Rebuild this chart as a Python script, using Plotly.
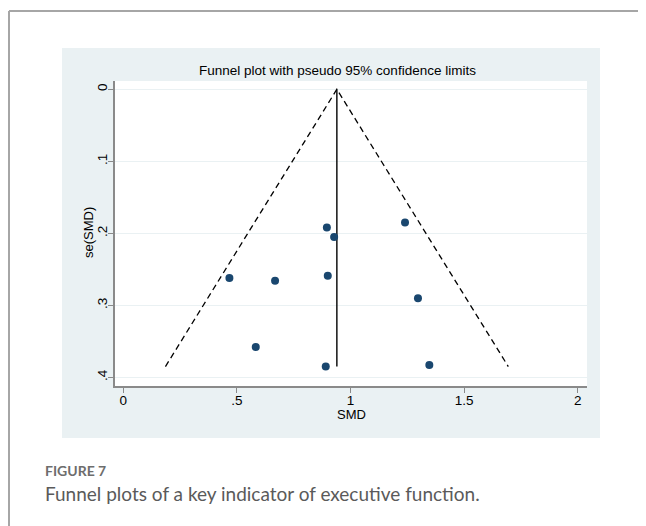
import plotly.graph_objects as go

# ---- data ----
smd = [0.896, 0.928, 1.240, 0.467, 0.668, 0.900, 1.297, 0.583, 0.891, 1.347]
se_smd = [0.192, 0.205, 0.185, 0.262, 0.266, 0.259, 0.290, 0.358, 0.385, 0.383]
pooled_smd = 0.94
z95 = 1.96
x_tick_vals = [0, 0.5, 1, 1.5, 2]
x_tick_text = ["0", ".5", "1", "1.5", "2"]
y_tick_vals = [0, 0.1, 0.2, 0.3, 0.4]
y_tick_text = ["0", ".1", ".2", ".3", ".4"]

title_text = "Funnel plot with pseudo 95% confidence limits"
x_title = "SMD"
y_title = "se(SMD)"
caption_label = "FIGURE 7"
caption_text = "Funnel plots of a key indicator of executive function."

# ---- layout geometry (page pixels; the page body adds an 8px offset) ----
OFF = 8
W, H = 646 - OFF, 526 - OFF
L, R, T, B = 115 - OFF, 587 - OFF, 81 - OFF, 386 - OFF


def px2x(px):
    return (px - OFF - L) / (R - L)


def py2y(py):
    return (B - (py - OFF)) / (B - T)


se_max = max(se_smd)
lo_lim = pooled_smd - z95 * se_max
hi_lim = pooled_smd + z95 * se_max

navy = "#1a476f"
panel = "#eaf1f3"
axis_col = "#8a8a8a"
stata_font = "Liberation Sans, Arial, sans-serif"
cap_font = "Lato, Open Sans, sans-serif"

fig = go.Figure()

# pseudo 95% confidence limits (dashed funnel)
fig.add_trace(go.Scatter(
    x=[lo_lim, pooled_smd, hi_lim],
    y=[se_max, 0, se_max],
    mode="lines",
    line=dict(color="black", width=1.3, dash="6px,4px"),
    hoverinfo="skip",
    showlegend=False,
))
# pooled estimate line
fig.add_trace(go.Scatter(
    x=[pooled_smd, pooled_smd],
    y=[0, se_max],
    mode="lines",
    line=dict(color="black", width=1.4),
    hoverinfo="skip",
    showlegend=False,
))
# studies
fig.add_trace(go.Scatter(
    x=smd,
    y=se_smd,
    mode="markers",
    marker=dict(color=navy, size=8, line=dict(width=0)),
    showlegend=False,
))

shapes = [
    # grey graph region
    dict(type="rect", xref="paper", yref="paper",
         x0=px2x(62), x1=px2x(600), y0=py2y(438), y1=py2y(48),
         fillcolor=panel, line=dict(width=0), layer="below"),
    # white plot region
    dict(type="rect", xref="paper", yref="paper",
         x0=0, x1=1, y0=0, y1=1,
         fillcolor="white", line=dict(width=0), layer="below"),
    # page frame lines
    dict(type="line", xref="paper", yref="paper",
         x0=px2x(9), x1=px2x(646), y0=py2y(11), y1=py2y(11),
         line=dict(color="#a6a6a6", width=2)),
    dict(type="line", xref="paper", yref="paper",
         x0=px2x(9), x1=px2x(9), y0=py2y(11), y1=py2y(526),
         line=dict(color="#a6a6a6", width=2)),
]

annotations = [
    dict(text=title_text, xref="paper", yref="paper",
         x=px2x(337), y=py2y(70), xanchor="center", yanchor="middle",
         showarrow=False, font=dict(family=stata_font, size=13.5, color="black")),
    dict(text=x_title, xref="paper", yref="paper",
         x=px2x(351), y=py2y(414), xanchor="center", yanchor="middle",
         showarrow=False, font=dict(family=stata_font, size=13, color="black")),
    dict(text=y_title, xref="paper", yref="paper",
         x=px2x(88), y=py2y(233), xanchor="center", yanchor="middle",
         textangle=-90,
         showarrow=False, font=dict(family=stata_font, size=13, color="black")),
    dict(text="<b>" + caption_label + "</b>", xref="paper", yref="paper",
         x=px2x(43), y=py2y(470), xanchor="left", yanchor="middle",
         showarrow=False, font=dict(family=cap_font, size=14, color="#6d6d6d")),
    dict(text=caption_text, xref="paper", yref="paper",
         x=px2x(43), y=py2y(493), xanchor="left", yanchor="middle",
         showarrow=False, font=dict(family=cap_font, size=19, color="#5a5a5a")),
]

fig.update_layout(
    width=W, height=H, autosize=False,
    margin=dict(l=L, r=W - R, t=T, b=H - B, pad=0),
    paper_bgcolor="white",
    plot_bgcolor="white",
    shapes=shapes,
    annotations=annotations,
    showlegend=False,
    font=dict(family=stata_font, size=14, color="black"),
)

fig.update_xaxes(
    range=[-0.0366, 2.041],
    tickmode="array", tickvals=x_tick_vals, ticktext=x_tick_text,
    showgrid=False, zeroline=False,
    showline=True, linecolor=axis_col, linewidth=1.6,
    ticks="outside", ticklen=5, tickwidth=1.2, tickcolor=axis_col,
    ticklabelstandoff=-4,
    tickfont=dict(family=stata_font, size=13.5, color="black"),
)
fig.update_yaxes(
    range=[0.412, -0.0115],
    tickmode="array", tickvals=y_tick_vals, ticktext=y_tick_text,
    tickangle=-90,
    showgrid=True, gridcolor=panel, gridwidth=1.2,
    zeroline=False,
    showline=True, linecolor=axis_col, linewidth=1.6,
    ticks="outside", ticklen=5, tickwidth=1.2, tickcolor=axis_col,
    ticklabelstandoff=-4,
    tickfont=dict(family=stata_font, size=13.5, color="black"),
)

fig.write_html("out.html")
